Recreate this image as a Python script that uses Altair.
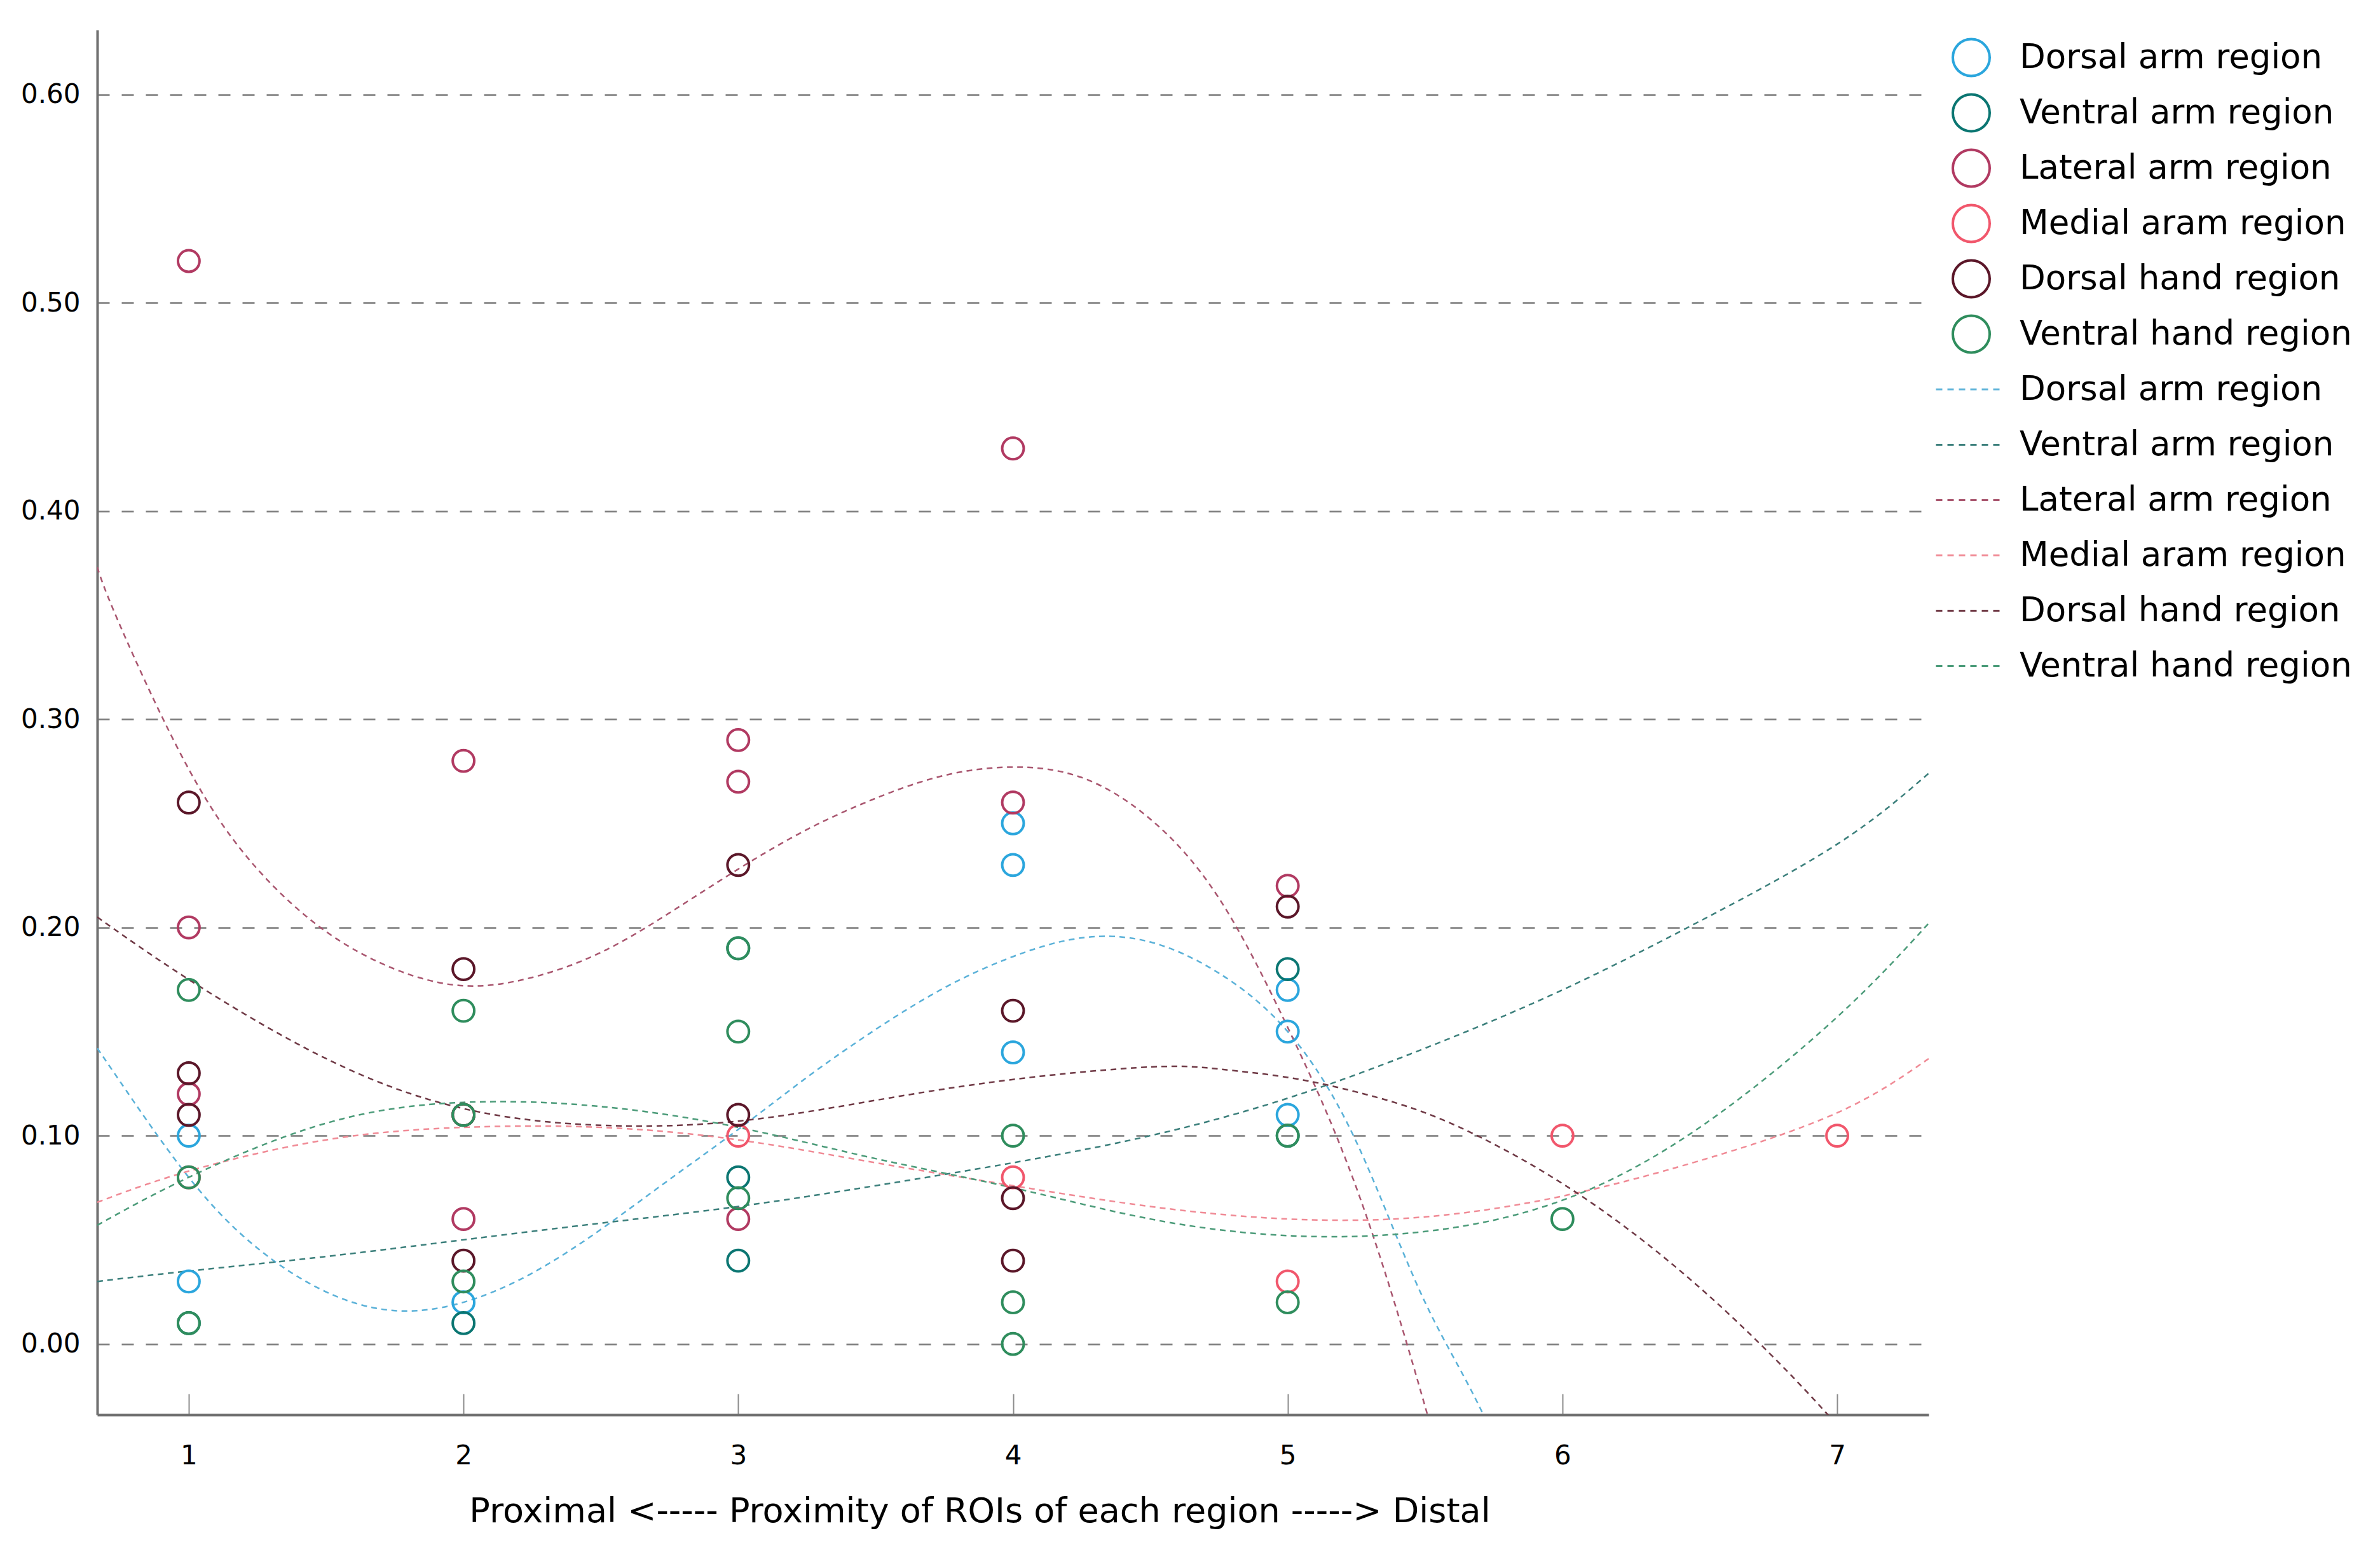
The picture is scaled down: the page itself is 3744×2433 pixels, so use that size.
import altair as alt
import pandas as pd

# ---------------- data ----------------
regions = ["Dorsal arm region", "Ventral arm region", "Lateral arm region",
           "Medial aram region", "Dorsal hand region", "Ventral hand region"]
point_colors = ["#2ba6dd", "#0b7672", "#b13a62", "#f1576c", "#5b1729", "#2f8d5d"]
line_colors = ["#5ab1d8", "#3b7f7b", "#a9566f", "#f08a95", "#6f3945", "#4b9b79"]

x_ticks = [1, 2, 3, 4, 5, 6, 7]
y_ticks = [0.0, 0.1, 0.2, 0.3, 0.4, 0.5, 0.6]
x_title = "Proximal <----- Proximity of ROIs of each region -----> Distal"

# observed points
dorsal_arm_x = [1, 1, 2, 4, 4, 4, 5, 5, 5]
dorsal_arm_y = [0.10, 0.03, 0.02, 0.25, 0.23, 0.14, 0.17, 0.15, 0.11]
ventral_arm_x = [1, 2, 3, 3, 3, 5, 5]
ventral_arm_y = [0.01, 0.01, 0.19, 0.08, 0.04, 0.18, 0.10]
lateral_arm_x = [1, 1, 1, 2, 2, 3, 3, 3, 4, 4, 5]
lateral_arm_y = [0.52, 0.20, 0.12, 0.28, 0.06, 0.29, 0.27, 0.06, 0.43, 0.26, 0.22]
medial_arm_x = [1, 2, 3, 4, 5, 6, 7]
medial_arm_y = [0.08, 0.11, 0.10, 0.08, 0.03, 0.10, 0.10]
dorsal_hand_x = [1, 1, 1, 2, 2, 2, 3, 3, 4, 4, 4, 5]
dorsal_hand_y = [0.26, 0.13, 0.11, 0.18, 0.11, 0.04, 0.23, 0.11, 0.16, 0.07, 0.04, 0.21]
ventral_hand_x = [1, 1, 1, 2, 2, 2, 3, 3, 3, 4, 4, 4, 5, 5, 6]
ventral_hand_y = [0.17, 0.08, 0.01, 0.16, 0.11, 0.03, 0.19, 0.15, 0.07, 0.10, 0.02, 0.00, 0.10, 0.02, 0.06]

# fit lines
dorsal_arm_fit_x = [0.667, 0.75, 1.0, 1.25, 1.5, 1.75, 2.0, 2.25, 2.5, 2.75, 3.0, 3.25, 3.5,
                    3.75, 4.0, 4.25, 4.5, 4.75, 5.0, 5.25, 5.5, 5.75, 6.0]
dorsal_arm_fit_y = [0.142, 0.126, 0.080, 0.046, 0.025, 0.016, 0.020, 0.034, 0.055, 0.079, 0.103,
                    0.128, 0.151, 0.171, 0.186, 0.195, 0.193, 0.178, 0.150, 0.097, 0.020, -0.045, -0.14]
ventral_arm_fit_x = [0.667, 1.0, 1.5, 2.0, 2.5, 3.0, 3.5, 4.0, 4.5, 5.0, 5.5, 6.0, 6.5, 7.0, 7.333]
ventral_arm_fit_y = [0.030, 0.035, 0.042, 0.050, 0.058, 0.066, 0.076, 0.087, 0.100, 0.118, 0.142,
                     0.170, 0.203, 0.240, 0.274]
lateral_arm_fit_x = [0.667, 0.75, 1.0, 1.25, 1.5, 1.75, 2.0, 2.25, 2.5, 2.75, 3.0, 3.25, 3.5,
                     3.75, 4.0, 4.25, 4.5, 4.75, 5.0, 5.25, 5.5, 5.75]
lateral_arm_fit_y = [0.373, 0.345, 0.276, 0.228, 0.198, 0.180, 0.172, 0.176, 0.188, 0.207, 0.228,
                     0.247, 0.262, 0.273, 0.277, 0.272, 0.252, 0.214, 0.152, 0.075, -0.030, -0.15]
medial_arm_fit_x = [0.667, 1.0, 1.5, 2.0, 2.5, 3.0, 3.5, 4.0, 4.5, 5.0, 5.5, 6.0, 6.5, 7.0, 7.333]
medial_arm_fit_y = [0.068, 0.083, 0.098, 0.104, 0.104, 0.098, 0.087, 0.076, 0.066, 0.060, 0.061,
                    0.071, 0.088, 0.111, 0.137]
dorsal_hand_fit_x = [0.667, 1.0, 1.5, 2.0, 2.5, 3.0, 3.5, 4.0, 4.5, 4.75, 5.0, 5.25, 5.5, 5.75,
                     6.0, 6.25, 6.5, 6.75, 7.0, 7.25]
dorsal_hand_fit_y = [0.205, 0.175, 0.137, 0.113, 0.105, 0.107, 0.117, 0.127, 0.133, 0.132, 0.128,
                     0.121, 0.111, 0.096, 0.077, 0.054, 0.027, -0.004, -0.039, -0.078]
ventral_hand_fit_x = [0.667, 1.0, 1.5, 2.0, 2.5, 3.0, 3.5, 4.0, 4.5, 5.0, 5.5, 6.0, 6.5, 7.0, 7.333]
ventral_hand_fit_y = [0.057, 0.080, 0.106, 0.116, 0.114, 0.104, 0.089, 0.075, 0.060, 0.052, 0.054,
                      0.069, 0.104, 0.157, 0.202]

# ---------------- tables ----------------
pts_x = [dorsal_arm_x, ventral_arm_x, lateral_arm_x, medial_arm_x, dorsal_hand_x, ventral_hand_x]
pts_y = [dorsal_arm_y, ventral_arm_y, lateral_arm_y, medial_arm_y, dorsal_hand_y, ventral_hand_y]
fit_x = [dorsal_arm_fit_x, ventral_arm_fit_x, lateral_arm_fit_x, medial_arm_fit_x,
         dorsal_hand_fit_x, ventral_hand_fit_x]
fit_y = [dorsal_arm_fit_y, ventral_arm_fit_y, lateral_arm_fit_y, medial_arm_fit_y,
         dorsal_hand_fit_y, ventral_hand_fit_y]

point_rows = []
for name, xs, ys in zip(regions, pts_x, pts_y):
    for xv, yv in zip(xs, ys):
        point_rows.append({"Region": name, "x": xv, "y": yv, "k": len(point_rows)})
points_df = pd.DataFrame(point_rows)

fit_rows = []
for name, xs, ys in zip(regions, fit_x, fit_y):
    for xv, yv in zip(xs, ys):
        fit_rows.append({"Fit": name, "x": xv, "y": yv})
fit_df = pd.DataFrame(fit_rows)

# ---------------- chart ----------------
W, H = 2881, 2178
x_scale = alt.Scale(domain=[0.667, 7.333], nice=False, zero=False)
y_scale = alt.Scale(domain=[-0.034, 0.631], nice=False, zero=False)


def y_axis():
    return alt.Axis(values=y_ticks, format=".2f", grid=True, gridDash=[19, 19],
                    gridColor="#7a7a7a", gridWidth=2.5, ticks=False, tickSize=0,
                    domainColor="#707070", domainWidth=4, labelFontSize=42,
                    labelPadding=27, title=None)


lines = alt.Chart(fit_df).mark_line(
    strokeWidth=2.5, strokeDash=[9, 7], clip=True, interpolate="natural"
).encode(
    x=alt.X("x:Q", scale=x_scale,
            axis=alt.Axis(orient="top", offset=-H, labels=False, domain=False, grid=False,
                          ticks=True, tickSize=33, tickWidth=2, tickColor="#8c8c8c",
                          values=x_ticks, title=None)),
    y=alt.Y("y:Q", scale=y_scale, axis=y_axis()),
    color=alt.Color("Fit:N", scale=alt.Scale(domain=regions, range=line_colors),
                    legend=alt.Legend(orient="none", legendX=2891, legendY=522, title=None,
                                      symbolType="stroke", symbolSize=11449,
                                      symbolDash=[10, 8], symbolStrokeWidth=3,
                                      labelOffset=23, clipHeight=87, rowPadding=0,
                                      padding=0, labelFontSize=53, labelLimit=1000)),
    order=alt.Order("x:Q"),
)

points = alt.Chart(points_df).mark_point(
    shape="circle", filled=False, size=1150, strokeWidth=4, opacity=1
).encode(
    x=alt.X("x:Q", scale=x_scale,
            axis=alt.Axis(orient="bottom", values=x_ticks, grid=False, ticks=False, tickSize=0,
                          domainColor="#707070", domainWidth=4, labelFontSize=42,
                          labelPadding=44, labelAngle=0, format="d", title=x_title,
                          titleFontSize=54, titlePadding=40, titleX=1388)),
    y=alt.Y("y:Q", scale=y_scale, axis=y_axis()),
    color=alt.Color("Region:N", scale=alt.Scale(domain=regions, range=point_colors),
                    legend=alt.Legend(orient="none", legendX=2917, legendY=0, title=None,
                                      symbolType="circle", symbolSize=3364,
                                      symbolStrokeWidth=4, labelOffset=45, clipHeight=87,
                                      rowPadding=0, padding=0, labelFontSize=53,
                                      labelLimit=1000)),
    order=alt.Order("k:Q"),
)

chart = alt.layer(lines, points).resolve_scale(
    color="independent"
).resolve_axis(
    x="independent"
).properties(
    width=W, height=H,
    padding={"left": 24, "top": 39, "right": 0, "bottom": 20},
    background="white",
).configure_view(
    stroke=None
).configure_axis(
    labelFont="DejaVu Sans", titleFont="DejaVu Sans", labelColor="black",
    titleColor="black", titleFontWeight="normal"
).configure_legend(
    labelFont="DejaVu Sans", labelColor="black"
)

chart.save("out.html", embed_options={"renderer": "svg", "actions": False})
